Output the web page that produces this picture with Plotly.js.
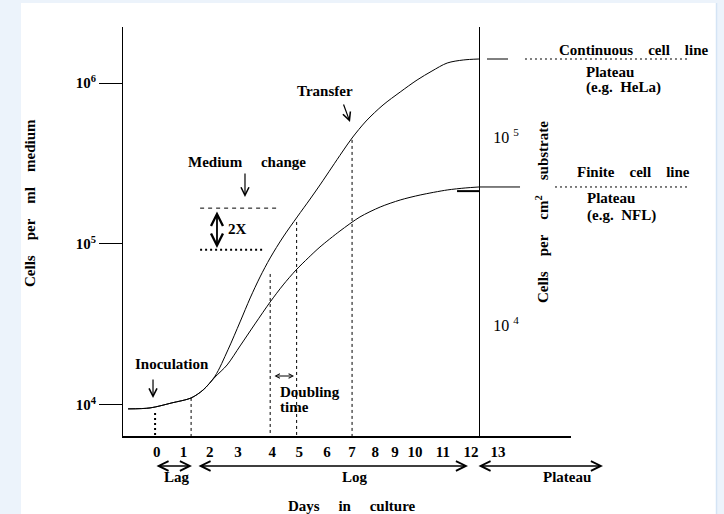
<!DOCTYPE html>
<html><head><meta charset="utf-8">
<script src="https://cdn.plot.ly/plotly-3.0.1.min.js"></script>
<style>html,body{margin:0;padding:0;background:#ecf3fb;} #chart{width:724px;height:514px;}</style>
</head><body><div id="chart"></div>
<script>
// ---- data ----
const continuousDays = [-0.96,-0.18,0.60,1.28,1.71,2.13,2.59,3.02,3.38,3.73,4.09,4.55,5.05,5.51,5.86,6.29,6.65,7.00,7.50,8.10,8.71,9.31,9.84,10.38,10.95,11.51];
const continuousCells = [9450,9580,10300,11050,12400,15100,22000,32800,46200,62400,81900,110500,147200,190300,232600,300800,372700,455300,580700,730000,879000,1044000,1187000,1331000,1390000,1410000];
const finiteDays = [-0.96,-0.18,0.60,1.28,1.71,2.13,2.56,3.02,3.55,4.09,4.55,5.01,5.44,5.86,6.57,7.28,8.00,8.71,9.42,10.38,11.02,11.51];
const finiteCells = [9450,9580,10300,11050,12400,14900,17720,23250,31860,43630,55650,68940,81850,95800,120400,147200,169700,187600,201500,216500,222800,226000];
const markerDays = [0, 1.28, 4.09, 5.03, 7.0];
const markerTops = [8920, 11050, 65100, 137000, 443000];
const twoXLevels = [92000, 167000];
const twoXDays = [[1.60, 3.91], [1.60, 4.44]];
const tickDays = [0.06,1.01,1.94,2.95,4.16,5.12,6.11,7.00,7.82,8.53,9.24,10.23,11.23,12.19];
const tickLabels = ['0','1','2','3','4','5','6','7','8','9','10','11','12','13'];
const leftTickVals = [1e4, 1e5, 1e6];
const leftTickText = ['10<sup>4</sup>','10<sup>5</sup>','10<sup>6</sup>'];
const rightTickVals = [1e4, 1e5];
const rightTickText = ['10 <sup>4</sup>','10 <sup>5</sup>'];

// ---- chart ----
const yRange = [3.807, 6.348];
const yBottom = Math.pow(10, yRange[0]);
const FONT = 'Liberation Serif, Times New Roman, serif';
const bold = (s) => ({family: FONT, size: s, color: '#000', weight: 'bold'});
const sp = (n) => '\u00a0'.repeat(n);

const traces = [
  {x: continuousDays, y: continuousCells, mode: 'lines', line: {color: '#000', width: 1, shape: 'spline', smoothing: 0.9}, hoverinfo: 'skip'},
  {x: finiteDays, y: finiteCells, mode: 'lines', line: {color: '#000', width: 1, shape: 'spline', smoothing: 0.8}, hoverinfo: 'skip'}
];
markerDays.forEach((d, i) => {
  traces.push({x: [d, d], y: [markerTops[i], yBottom], mode: 'lines',
    line: {color: '#000', width: i === 0 ? 2 : 1, dash: i === 0 ? '2px,3px' : '3px,3px'}, hoverinfo: 'skip'});
});
twoXLevels.forEach((v, i) => {
  traces.push({x: twoXDays[i], y: [v, v], mode: 'lines',
    line: {color: '#000', width: i === 0 ? 2 : 1, dash: i === 0 ? '2px,3px' : '4px,4px'}, hoverinfo: 'skip'});
});
traces.push({x: [tickDays[0], tickDays[0]], y: rightTickVals, yaxis: 'y2', mode: 'none', hoverinfo: 'skip'});

const contPlateau = continuousCells[continuousCells.length - 1];
const finPlateau = finiteCells[finiteCells.length - 1];

const shapes = [
  {type: 'rect', xref: 'paper', yref: 'paper', x0: -0.2277, x1: 1.3237, y0: -0.1907, y1: 1.0587, fillcolor: '#ffffff', line: {width: 0}, layer: 'below'},
  {type: 'line', xref: 'paper', yref: 'paper', x0: 1.3248, x1: 1.3248, y0: -0.1907, y1: 1.0587, line: {color: '#d4e4f5', width: 1.5}, layer: 'below'},
  {type: 'line', xref: 'paper', yref: 'y', x0: 0.8125, x1: 0.8594, y0: contPlateau, y1: contPlateau, line: {color: '#000', width: 1}},
  {type: 'line', xref: 'paper', yref: 'y', x0: 0.8973, x1: 1.2634, y0: contPlateau, y1: contPlateau, line: {color: '#000', width: 1, dash: '2px,3px'}},
  {type: 'line', xref: 'paper', yref: 'y', x0: 0.7946, x1: 0.8862, y0: finPlateau, y1: finPlateau, line: {color: '#000', width: 1}},
  {type: 'line', xref: 'paper', yref: 'y', x0: 0.9643, x1: 1.2634, y0: finPlateau, y1: finPlateau, line: {color: '#000', width: 1, dash: '2px,3px'}},
  {type: 'line', xref: 'x', yref: 'y', x0: 10.73, x1: 11.51, y0: 213000, y1: 213000, line: {color: '#000', width: 2}}
];

function txt(text, x, y, opts) {
  return Object.assign({text: text, x: x, y: y, xref: 'paper', yref: 'paper', showarrow: false,
    xanchor: 'center', yanchor: 'middle', font: bold(15)}, opts || {});
}
function arrow(x, y, ax, ay, dbl, w, size) {
  const s = size || 1.3;
  const a = {text: '', x: x, y: y, xref: 'paper', yref: 'paper', ax: ax, ay: ay, showarrow: true,
    arrowhead: 5, arrowsize: s, arrowwidth: w || 1.2, arrowcolor: '#000', standoff: 0};
  if (dbl) { a.arrowside = 'end+start'; a.startarrowhead = 5; a.startarrowsize = s; a.startstandoff = 0; }
  return a;
}

const annotations = [
  txt('Transfer', 0.4509, 0.8435),
  txt('Medium' + sp(5) + 'change', 0.2768, 0.6699),
  txt('2X', 0.2556, 0.5061),
  txt('Inoculation', 0.1094, 0.1760),
  txt('Doubling', 0.3460, 0.1076, {xanchor: 'left'}),
  txt('time', 0.3460, 0.0709, {xanchor: 'left'}),
  txt('Lag', 0.1205, -0.1002),
  txt('Log', 0.5179, -0.1002),
  txt('Plateau', 0.9911, -0.1002),
  txt('Days' + sp(5) + 'in' + sp(5) + 'culture', 0.5112, -0.1700),
  txt('Continuous' + sp(4) + 'cell' + sp(4) + 'line', 1.1406, 0.9438),
  txt('Plateau', 1.0290, 0.8900, {xanchor: 'left'}),
  txt('(e.g.' + sp(2) + 'HeLa)', 1.0290, 0.8509, {xanchor: 'left'}),
  txt('Finite' + sp(4) + 'cell' + sp(4) + 'line', 1.1384, 0.6455),
  txt('Plateau', 1.0313, 0.5819, {xanchor: 'left'}),
  txt('(e.g.' + sp(2) + 'NFL)', 1.0313, 0.5403, {xanchor: 'left'}),
  txt('Cells' + sp(4) + 'per' + sp(4) + 'ml' + sp(4) + 'medium', -0.2076, 0.5697, {textangle: -90}),
  txt('Cells' + sp(4) + 'per' + sp(4) + 'cm<sup>2</sup>' + sp(4) + 'substrate', 0.9353, 0.5477, {textangle: -90}),
  arrow(0.2723, 0.5844, 0, -25, false),
  arrow(0.2098, 0.4597, 0, -38, true, 1.8),
  arrow(0.5067, 0.7677, -7, -19, false),
  arrow(0.0670, 0.0929, 0, -20, false),
  arrow(0.3817, 0.1467, -21, 0, true, 1.1, 0.8),
  arrow(0.1540, -0.0733, -37, 0, true, 1.5),
  arrow(0.7701, -0.0733, -271, 0, true, 1.5),
  arrow(1.0714, -0.0733, -126, 0, true, 1.5)
];

const layout = {
  width: 724, height: 514,
  margin: {l: 123, r: 153, t: 27, b: 78, pad: 0},
  paper_bgcolor: '#ecf3fb', plot_bgcolor: '#ffffff',
  showlegend: false,
  font: {family: FONT, color: '#000'},
  xaxis: {range: [-1.14, 14.78], showgrid: false, zeroline: false, showline: true, linecolor: '#000', linewidth: 2,
    ticks: '', tickvals: tickDays, ticktext: tickLabels, tickfont: bold(15), ticklabelstandoff: 1, fixedrange: true},
  yaxis: {type: 'log', range: yRange, showgrid: false, zeroline: false, showline: true, linecolor: '#000', linewidth: 1,
    ticks: 'outside', ticklen: 23, tickwidth: 1, tickcolor: '#000', tickvals: leftTickVals, ticktext: leftTickText,
    tickfont: bold(15), fixedrange: true},
  yaxis2: {type: 'log', range: [3.41, 5.585], overlaying: 'y', anchor: 'free', position: 0.7946, side: 'right',
    showgrid: false, zeroline: false, showline: true, linecolor: '#000', linewidth: 1, ticks: '',
    tickvals: rightTickVals, ticktext: rightTickText, tickfont: {family: FONT, size: 16, color: '#000'},
    ticklabelstandoff: 10, fixedrange: true},
  shapes: shapes,
  annotations: annotations
};

Plotly.newPlot('chart', traces, layout, {displayModeBar: false, staticPlot: true});
</script>
</body></html>
